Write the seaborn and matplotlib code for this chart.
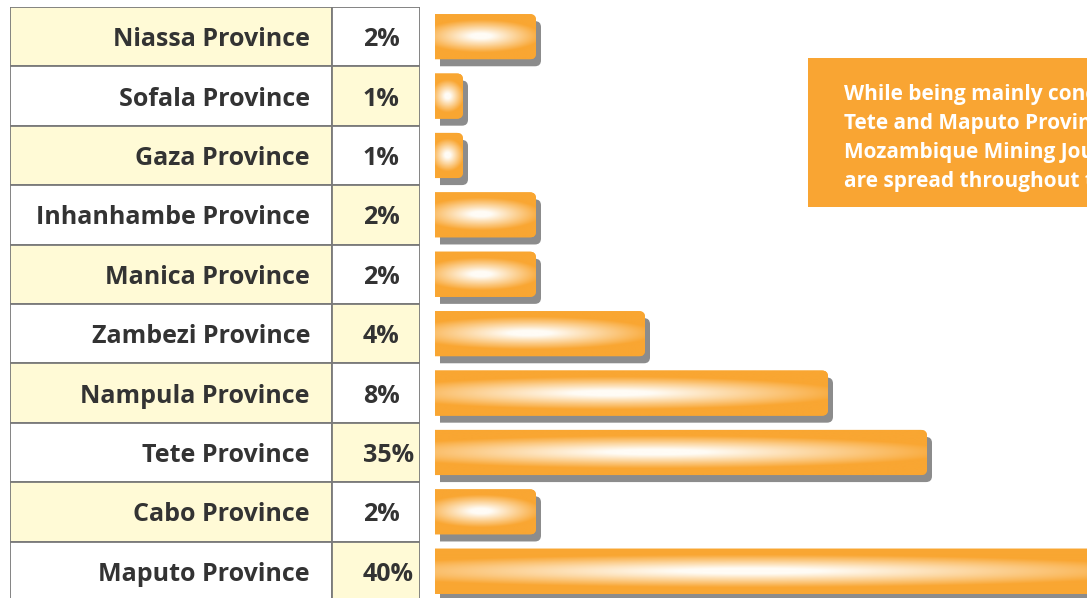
import numpy as np
import pandas as pd
import matplotlib.pyplot as plt
import matplotlib.transforms as mtransforms
from matplotlib.path import Path
from matplotlib.patches import PathPatch, Rectangle
import seaborn as sns

# === data ===
provinces = ["Niassa Province", "Sofala Province", "Gaza Province",
             "Inhanhambe Province", "Manica Province", "Zambezi Province",
             "Nampula Province", "Tete Province", "Cabo Province",
             "Maputo Province"]
share_labels = ["2%", "1%", "1%", "2%", "2%", "4%", "8%", "35%", "2%", "40%"]
# bar lengths as drawn in the graphic (not proportional to the shares)
bar_len = [101, 28, 28, 101, 101, 210, 393, 492, 101, 700]

note = ("While being mainly concentrated in\n"
        "Tete and Maputo Provinces, the\n"
        "Mozambique Mining Journal's readers\n"
        "are spread throughout the country.")

df = pd.DataFrame({"province": provinces, "share": share_labels, "length": bar_len})

# === style ===
ORANGE = "#F9A632"
YELLOW = "#FFFAD6"
TEXT = "#333333"
GRID = "#7a7a7a"
SHADOW = "#8c8c8c"
FONT = ["Open Sans", "DejaVu Sans"]

sns.set_theme(style="white")
plt.rcParams["font.family"] = FONT

W, H = 1087, 598
fig = plt.figure(figsize=(W / 100, H / 100), dpi=100)

top_px, row_px = 7, 59.4
n = len(provinces)
bottom_px = top_px + n * row_px
ax_bottom = (H - bottom_px) / H
ax_height = (n * row_px) / H

# --- table ---
tab_left, tab_right, split = 10, 420, 332
tax = fig.add_axes([tab_left / W, ax_bottom, (tab_right - tab_left) / W, ax_height])
name_w = split - tab_left
pct_w = tab_right - split
ypos = np.arange(n)
name_cols = [YELLOW if i % 2 == 0 else "white" for i in range(n)]
pct_cols = ["white" if i % 2 == 0 else YELLOW for i in range(n)]
tax.barh(ypos, name_w, left=0, height=1, color=name_cols, edgecolor=GRID, linewidth=1.3)
tax.barh(ypos, pct_w, left=name_w, height=1, color=pct_cols, edgecolor=GRID, linewidth=1.3)
for i, row in df.iterrows():
    tax.text(name_w - 22, i + 0.05, row["province"], ha="right", va="center",
             fontsize=18, fontweight="bold", color=TEXT)
    tax.text(name_w + 31, i + 0.05, row["share"], ha="left", va="center",
             fontsize=18, fontweight="bold", color=TEXT)
tax.set_xlim(0, tab_right - tab_left)
tax.set_ylim(n - 0.5, -0.5)
tax.axis("off")

# --- bars ---
bar_left = 435
bax = fig.add_axes([bar_left / W, ax_bottom, (W - bar_left) / W, ax_height])
sns.barplot(data=df, x="length", y="province", orient="h", color=ORANGE,
            width=0.76, ax=bax)
bax.set_xlim(0, W - bar_left)
bax.set_ylim(n - 0.5, -0.5)
bax.axis("off")

fig.canvas.draw()
px_x = bax.bbox.width / (W - bar_left)
px_y = bax.bbox.height / n
rad = 6
rx, ry = rad / px_x, rad / px_y

shadow_tr = mtransforms.offset_copy(bax.transData, fig=fig, x=5, y=-7, units="dots")

orange_rgb = np.array([249, 166, 50]) / 255
white_rgb = np.array([255, 252, 246]) / 255


def bar_path(x0, x1, y0, y1):
    r_x = min(rx, (x1 - x0) / 2)
    verts = [(x0, y0), (x1 - r_x, y0), (x1, y0), (x1, y0 + ry),
             (x1, y1 - ry), (x1, y1), (x1 - r_x, y1), (x0, y1), (x0, y0)]
    codes = [Path.MOVETO, Path.LINETO, Path.CURVE3, Path.CURVE3,
             Path.LINETO, Path.CURVE3, Path.CURVE3, Path.LINETO, Path.CLOSEPOLY]
    return Path(verts, codes)


for p in list(bax.patches):
    x0, y0 = p.get_x(), p.get_y()
    x1, y1 = x0 + p.get_width(), y0 + p.get_height()
    p.set_visible(False)
    path = bar_path(x0, x1, y0, y1)
    sh = PathPatch(path, facecolor=SHADOW, edgecolor="none", transform=shadow_tr, zorder=2)
    bax.add_patch(sh)
    body = PathPatch(path, facecolor=ORANGE, edgecolor="none", zorder=3)
    bax.add_patch(body)
    # glossy highlight: soft horizontal ellipse
    wpx = max(int((x1 - x0) * px_x), 4)
    u = np.linspace(0, 1, wpx)[None, :]
    v = np.linspace(0, 1, 80)[:, None]
    r = np.sqrt(((v - 0.5) / 0.36) ** 2 + ((u - 0.45) / 0.6) ** 2)
    t = np.clip(1 - r, 0, 1)
    t = np.clip(t * 1.2, 0, 1)
    img = orange_rgb[None, None, :] * (1 - t[..., None]) + white_rgb[None, None, :] * t[..., None]
    im = bax.imshow(img, extent=(x0, x1, y1, y0), aspect="auto",
                    interpolation="bilinear", zorder=4)
    im.set_clip_path(body)

bax.set_xlim(0, W - bar_left)
bax.set_ylim(n - 0.5, -0.5)

# --- note box ---
fig.patches.append(Rectangle((808 / W, 1 - 207 / H), (W - 808 + 20) / W, 149 / H,
                             transform=fig.transFigure, facecolor="#F9A533",
                             edgecolor="none", zorder=5))
fig.text(844 / W, 1 - 84 / H, note, ha="left", va="top", color="white",
         fontsize=15, fontweight="bold", linespacing=1.5, zorder=6)

fig.savefig("out.png", dpi=100, facecolor="white")
